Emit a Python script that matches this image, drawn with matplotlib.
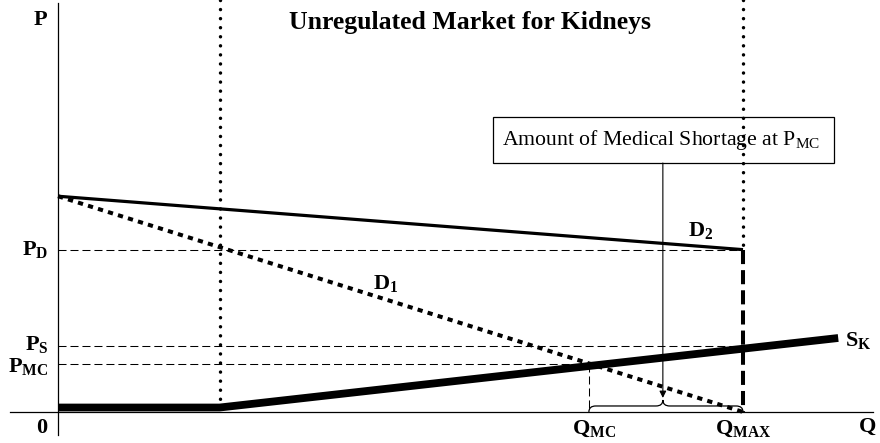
import numpy as np
import matplotlib
matplotlib.use("Agg")
import matplotlib.pyplot as plt
from matplotlib.path import Path
from matplotlib.patches import PathPatch, Rectangle

plt.rcParams['font.family'] = ['Liberation Serif', 'DejaVu Serif']
plt.rcParams['mathtext.fontset'] = 'custom'
plt.rcParams['mathtext.rm'] = 'Liberation Serif'
plt.rcParams['mathtext.bf'] = 'Liberation Serif:bold'
plt.rcParams['mathtext.it'] = 'Liberation Serif:italic'

# values (Q_MAX = 100 units)
q_kink = 23.6     # where supply starts rising
q_mc = 77.5
q_max = 100.0
q_supply_end = 113.9
q_arrow = 88.3

p_choke = 31.5    # common intercept of D1 and D2
p_d = 23.7        # D2 at Q_MAX
p_s = 9.6
p_mc = 7.0
p_floor = 0.65
p_supply_end = 10.8

d1_q = [0, q_max]
d1_p = [p_choke, 0]
d2_q = [0, q_max]
d2_p = [p_choke, p_d]
s_q = [0, q_kink, q_supply_end]
s_p = [p_floor, p_floor, p_supply_end]

fig = plt.figure(figsize=(8.8, 4.43), dpi=100)
ax = fig.add_axes([0, 0, 1, 1])
ax.set_xlim(-8.47, 120.0)
ax.set_ylim(-4.53, 60.15)
ax.axis('off')

# axes
ax.plot([0, 0], [-3.3, 59.7], color='black', lw=0.9)
ax.plot([-7, 119], [0, 0], color='black', lw=0.9)

# vertical dotted guides
dots = dict(color='black', lw=2.5, linestyle=(0, (0.01, 2.6)), dash_capstyle='round')
ax.plot([q_kink, q_kink], [60.2, p_floor], **dots)
ax.plot([q_max, q_max], [60.2, p_d + 0.6], **dots)

# thin dashed guides
thin = dict(color='black', lw=0.75, linestyle=(0, (7.7, 3.8)))
ax.plot([0, q_max], [p_d, p_d], **thin)
ax.plot([0, q_max], [p_s, p_s], **thin)
ax.plot([0, q_mc], [p_mc, p_mc], **thin)
ax.plot([q_mc, q_mc], [p_mc, 0], **thin)

# thick dashed at Q_MAX
ax.plot([q_max, q_max], [p_d, 0], color='black', lw=2.9, linestyle=(0, (3.5, 1.5)))

# curves
ax.plot(d2_q, d2_p, color='black', lw=2.3, solid_capstyle='butt')
ax.plot(d1_q, d1_p, color='black', lw=2.9, linestyle=(0, (1.3, 1.3)))
ax.plot(s_q, s_p, color='black', lw=5.6, solid_capstyle='butt', solid_joinstyle='miter')

# brace under the shortage
h = 1.75
d = 1.0
x0, xm, x1 = q_mc, q_arrow, q_max
verts = [(x0, 0), (x0, h / 2), (x0 + d, h / 2),
         (xm - d, h / 2), (xm, h / 2), (xm, h),
         (xm, h / 2), (xm + d, h / 2),
         (x1 - d, h / 2), (x1, h / 2), (x1, 0)]
codes = [Path.MOVETO, Path.CURVE3, Path.CURVE3,
         Path.LINETO, Path.CURVE3, Path.CURVE3,
         Path.CURVE3, Path.CURVE3,
         Path.LINETO, Path.CURVE3, Path.CURVE3]
ax.add_patch(PathPatch(Path(verts, codes), fill=False, lw=0.9, color='black'))

# callout box and arrow
box_l, box_r, box_b, box_t = 63.5, 113.3, 36.35, 43.1
ax.add_patch(Rectangle((box_l, box_b), box_r - box_l, box_t - box_b,
                       fill=False, lw=0.9, edgecolor='black'))
ax.text((box_l + box_r) / 2 - 0.3, (box_b + box_t) / 2, r'Amount of Medical Shortage at $\mathrm{P_{MC}}$',
        ha='center', va='center', fontsize=15.7)
ax.annotate('', xy=(q_arrow, h + 0.3), xytext=(q_arrow, box_b),
            arrowprops=dict(arrowstyle='-|>', color='black', lw=0.8, mutation_scale=10,
                            shrinkA=0, shrinkB=0))

# labels
lab = dict(fontsize=16, color='black')
ax.text(60.1, 56.9, 'Unregulated Market for Kidneys', ha='center', va='center',
        fontsize=18.5, fontweight='bold')
ax.text(-1.6, 57.3, 'P', ha='right', va='center', fontweight='bold', **lab)
ax.text(-1.6, -2.3, '0', ha='right', va='center', fontweight='bold', **lab)
ax.text(118.2, -2.2, 'Q', ha='center', va='center', fontweight='bold', **lab)
ax.text(-1.4, p_d, r'$\mathbf{P_D}$', ha='right', va='center', **lab)
ax.text(-1.4, p_s + 0.2, r'$\mathbf{P_S}$', ha='right', va='center', **lab)
ax.text(-1.4, p_mc - 0.4, r'$\mathbf{P_{MC}}$', ha='right', va='center', **lab)
ax.text(47.8, 18.8, r'$\mathbf{D_1}$', ha='center', va='center', **lab)
ax.text(93.8, 26.5, r'$\mathbf{D_2}$', ha='center', va='center', **lab)
ax.text(q_supply_end + 1.0, p_supply_end - 0.3, r'$\mathbf{S_K}$', ha='left', va='center', **lab)
ax.text(q_mc + 0.8, -2.4, r'$\mathbf{Q_{MC}}$', ha='center', va='center', **lab)
ax.text(q_max, -2.4, r'$\mathbf{Q_{MAX}}$', ha='center', va='center', **lab)

fig.savefig('out.png', dpi=100)
